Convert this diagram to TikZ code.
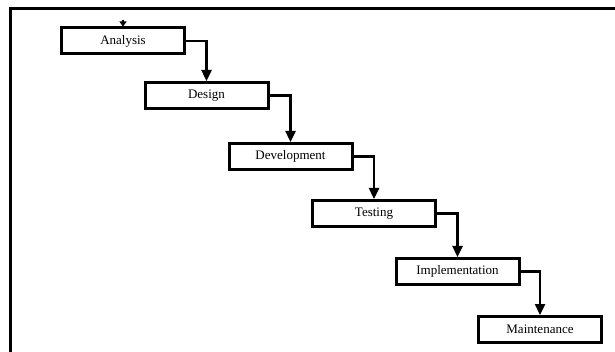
\documentclass[tikz,border=0pt]{standalone}
\usepackage{fontspec}
\setmainfont{Liberation Serif}
\usetikzlibrary{calc}
\usetikzlibrary{shapes,arrows.meta}

\begin{document}
\begin{tikzpicture}[x=1pt,y=-1pt]
    \tikzset{phase/.style={draw=black,line width=3pt,minimum width=123pt,minimum height=26pt,inner sep=0pt,font=\fontsize{13}{15}\selectfont},
      flow/.style={line width=2.4pt,-{Triangle[length=11pt,width=10pt]}}}
    \useasboundingbox (0,0) rectangle (615,352);
    \coordinate (FrameLow) at (10,352);
    \coordinate (FrameCorner) at (10,9);
    \coordinate (FrameEnd) at (615,9);
    \coordinate (Entry) at (123,20);
    \draw [line width=3pt] (FrameLow)--(FrameCorner)--(FrameEnd);
    \node[phase] (analysis) at (123,41) {Analysis};
    \node[phase] (design) at (206.5,95.5) {Design};
    \node[phase] (development) at (290.5,156.5) {Development};
    \node[phase] (testing) at (374,213.5) {Testing};
    \node[phase] (implementation) at (457.5,271.5) {Implementation};
    \node[phase] (maintenance) at (540,329.5) {Maintenance};
    \draw [line width=1.2pt,-{Triangle[length=5pt,width=7pt]}] (Entry)--(analysis.north);
    \draw [flow] (analysis.east) -| (design.north);
    \draw [flow] (design.east) -| (development.north);
    \draw [flow] (development.east) -| (testing.north);
    \draw [flow] (testing.east) -| (implementation.north);
    \draw [flow] (implementation.east) -| (maintenance.north);
  \end{tikzpicture}
\end{document}
